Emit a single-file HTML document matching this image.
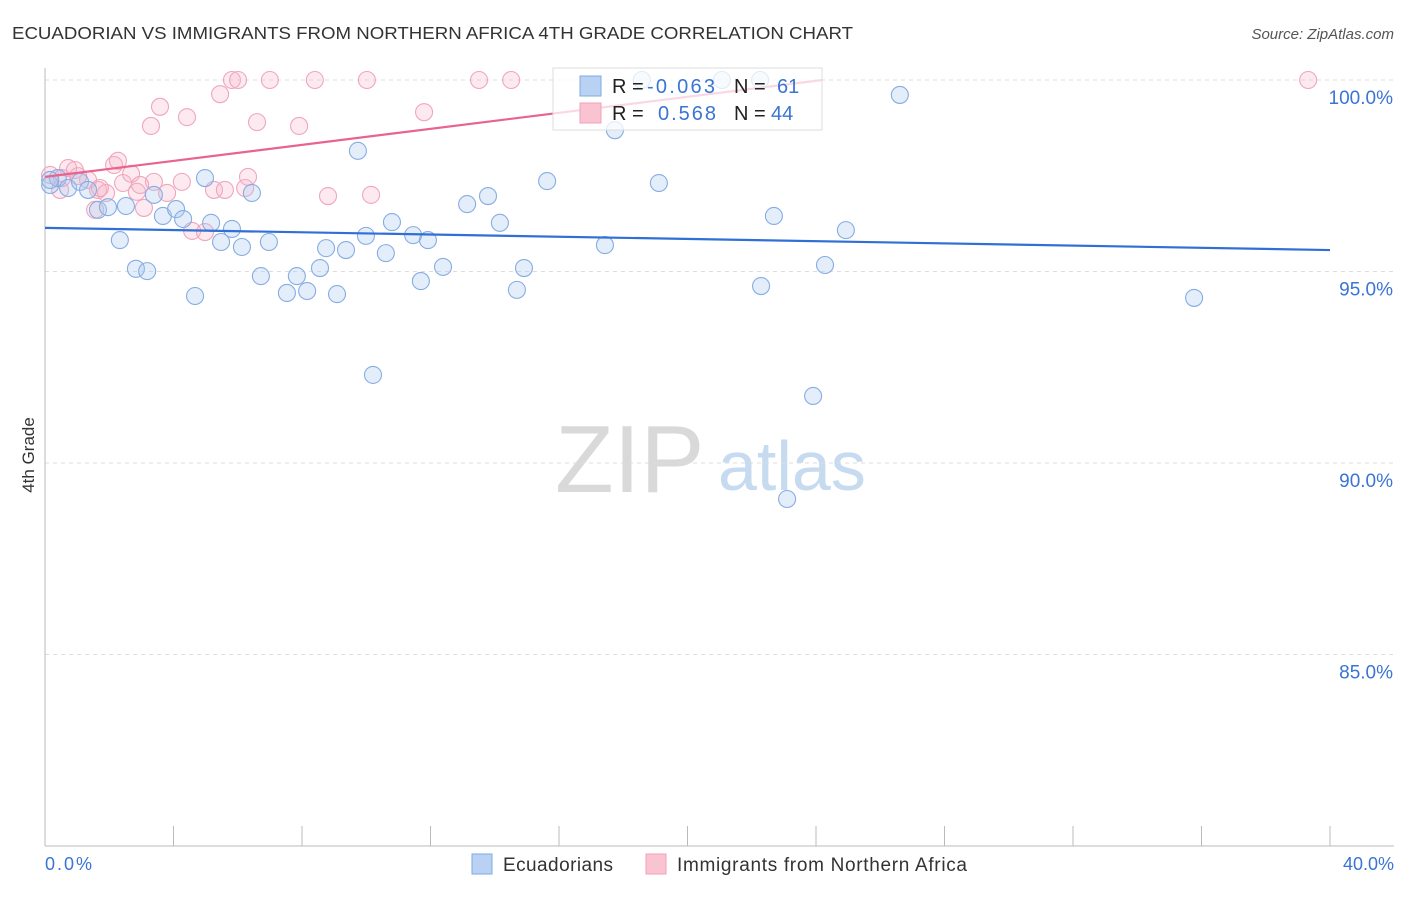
<!DOCTYPE html>
<html><head><meta charset="utf-8"><style>
body{margin:0;background:#fff;font-family:"Liberation Sans",sans-serif;}
svg text{font-family:"Liberation Sans",sans-serif;}
</style></head><body>
<svg width="1406" height="892" viewBox="0 0 1406 892">
<script>
const blueX=[0.16,0.40,0.72,1.09,1.34,1.65,1.96,2.33,2.52,2.83,3.18,3.39,3.67,4.08,4.30,4.67,4.98,5.17,5.48,5.82,6.13,6.44,6.72,6.97,7.53,7.84,8.16,8.56,8.75,9.09,9.37,9.74,9.99,10.21,10.61,10.80,11.46,11.70,11.92,12.39,13.14,13.79,14.16,14.69,14.91,15.63,17.43,17.74,18.58,19.11,21.07,22.26,22.29,22.69,23.10,23.91,24.28,24.93,26.61,35.77,0.16];
const blueY=[97.26,97.44,97.18,97.34,97.13,96.61,96.68,95.82,96.71,95.07,95.01,97.00,96.45,96.63,96.37,94.36,97.44,96.27,95.77,96.11,95.64,97.05,94.88,95.77,94.44,94.88,94.49,95.09,95.61,94.41,95.56,98.15,95.93,92.30,95.48,96.29,95.95,94.75,95.82,95.12,96.76,96.97,96.27,94.52,95.09,97.36,95.69,98.69,100,97.31,100,100,94.62,96.45,89.06,91.75,95.17,96.08,99.61,94.31,97.39];
const pinkX=[0.16,0.47,0.72,0.93,1.34,1.56,1.65,1.90,2.15,2.27,2.43,2.68,2.86,3.08,3.30,3.39,3.58,3.80,4.26,4.42,4.58,4.98,5.26,5.45,5.60,5.82,6.01,6.23,6.32,6.60,7.00,7.91,8.40,8.81,10.02,10.15,11.80,13.51,14.51,39.32,1.03,1.71,2.96,0.53];
const pinkY=[97.52,97.13,97.70,97.65,97.39,96.61,97.13,97.05,97.78,97.89,97.31,97.55,97.08,96.66,98.80,97.34,99.30,97.05,97.34,99.03,96.06,96.03,97.13,99.63,97.13,100,100,97.18,97.47,98.90,100,98.80,100,96.97,100,97.00,99.16,100,100,100,97.49,97.18,97.26,97.44];
const blueTrendX=[0,40];
const blueTrendY=[96.14,95.56];
const pinkTrendX=[0,24.2];
const pinkTrendY=[97.47,100];
const yTicks=[100,95,90,85];
const yTickLabels=["100.0%","95.0%","90.0%","85.0%"];
const xTicks=[0,4,8,12,16,20,24,28,32,36,40];
</script>
<text x="12" y="39" font-size="17.5" fill="#333" textLength="841" lengthAdjust="spacingAndGlyphs">ECUADORIAN VS IMMIGRANTS FROM NORTHERN AFRICA 4TH GRADE CORRELATION CHART</text>
<text x="1394" y="39" font-size="15" fill="#555" font-style="italic" text-anchor="end">Source: ZipAtlas.com</text>
<text transform="translate(34,455) rotate(-90)" font-size="17" fill="#333" text-anchor="middle">4th Grade</text>
<g>
<text x="555" y="492" font-size="96" font-family="Liberation Serif,serif" fill="#d9d9d9">ZIP</text>
<text x="718" y="490" font-size="70" fill="#c6daf0">atlas</text>
</g>
<g id="grid"></g>
<line x1="45" y1="68" x2="45" y2="846" stroke="#bbb"/>
<line x1="45" y1="846" x2="1394" y2="846" stroke="#bbb"/>
<g id="marks"></g>
<g>
<rect x="553" y="68" width="269" height="62" fill="rgba(255,255,255,0.75)" stroke="#ddd"/>
<rect x="580" y="76" width="21" height="20" fill="#b9d2f4" stroke="#7fa9e0"/>
<rect x="580" y="103" width="21" height="20" fill="#f9c3d2" stroke="#f0a0b8"/>
<text x="612" y="93" font-size="20" fill="#222">R =</text><text x="647" y="93" font-size="20" fill="#3a74d4" textLength="68">-0.063</text>
<text x="734" y="93" font-size="20" fill="#222">N =</text><text x="777" y="93" font-size="20" fill="#3a74d4">61</text>
<text x="612" y="120" font-size="20" fill="#222">R =</text><text x="658" y="120" font-size="20" fill="#3a74d4" textLength="58">0.568</text>
<text x="734" y="120" font-size="20" fill="#222">N =</text><text x="771" y="120" font-size="20" fill="#3a74d4">44</text>
</g>
<text x="45" y="870" font-size="18" fill="#3a74d4" textLength="47">0.0%</text>
<text x="1394" y="870" font-size="18" fill="#3a74d4" text-anchor="end">40.0%</text>
<g>
<rect x="472" y="854" width="20" height="20" fill="#b9d2f4" stroke="#7fa9e0"/>
<text x="503" y="871" font-size="19" fill="#333" textLength="110">Ecuadorians</text>
<rect x="646" y="854" width="20" height="20" fill="#f9c3d2" stroke="#f0a0b8"/>
<text x="677" y="871" font-size="19" fill="#333" textLength="290">Immigrants from Northern Africa</text>
</g>
<script>
const NS="http://www.w3.org/2000/svg";
const sx=v=>45+v*(1330-45)/40;
const sy=v=>80+(100-v)*(846-80)/20;
const grid=document.getElementById('grid');
const marks=document.getElementById('marks');
yTicks.forEach((t,i)=>{
  const l=document.createElementNS(NS,'line');
  l.setAttribute('x1',45);l.setAttribute('x2',1394);l.setAttribute('y1',sy(t));l.setAttribute('y2',sy(t));
  l.setAttribute('stroke','#ddd');l.setAttribute('stroke-dasharray','4,4');
  
  
  grid.appendChild(l);
  const tx=document.createElementNS(NS,'text');
  tx.setAttribute('x',1393);tx.setAttribute('y',sy(t)+24);tx.setAttribute('text-anchor','end');
  tx.setAttribute('font-size','19');tx.setAttribute('fill','#3a74d4');tx.textContent=yTickLabels[i];
  
  
  grid.appendChild(tx);
});
xTicks.forEach(t=>{
  const l=document.createElementNS(NS,'line');
  l.setAttribute('x1',sx(t));l.setAttribute('x2',sx(t));l.setAttribute('y1',826);l.setAttribute('y2',846);
  l.setAttribute('stroke','#bbb');
  
  
  grid.appendChild(l);
});
function pts(xs,ys,fill,stroke,name){
  xs.forEach((x,i)=>{
    const c=document.createElementNS(NS,'circle');
    c.setAttribute('cx',sx(x));c.setAttribute('cy',sy(ys[i]));c.setAttribute('r',8.5);
    c.setAttribute('fill',fill);c.setAttribute('stroke',stroke);c.setAttribute('stroke-width','1.1');
    
    
    marks.appendChild(c);
  });
}
pts(pinkX,pinkY,'rgba(248,180,200,0.28)','#f0a6bc','point-immigrants');
pts(blueX,blueY,'rgba(170,200,240,0.32)','#86ade2','point-ecuadorians');
function trend(xs,ys,col,name){
  const l=document.createElementNS(NS,'line');
  l.setAttribute('x1',sx(xs[0]));l.setAttribute('x2',sx(xs[1]));l.setAttribute('y1',sy(ys[0]));l.setAttribute('y2',sy(ys[1]));
  l.setAttribute('stroke',col);l.setAttribute('stroke-width','2.2');
  
  
  marks.appendChild(l);
}
trend(blueTrendX,blueTrendY,'#2f6fd6','trendline-ecuadorians');
trend(pinkTrendX,pinkTrendY,'#e8648e','trendline-immigrants');
</script>
</svg>
</body></html>
